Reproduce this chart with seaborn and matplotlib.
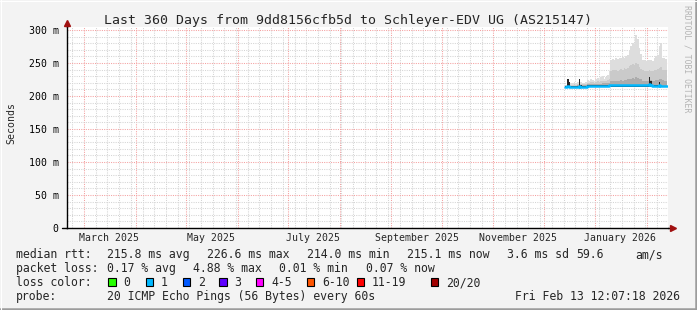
import matplotlib
matplotlib.use('Agg')
import matplotlib.pyplot as plt
import matplotlib.dates as mdates
import matplotlib.ticker as mticker
from matplotlib.patches import Rectangle
from matplotlib.lines import Line2D
import seaborn as sns
import pandas as pd

# ---------------- data ----------------
first_day = '2025-12-14'
median_ms = [214.0, 214.5, 214.2, 213.8, 213.8, 213.8, 213.8, 213.9, 214.5, 214.0,
             214.0, 214.0, 214.2, 215.5, 215.5, 215.6, 215.6, 215.5, 215.6, 215.7,
             215.6, 215.6, 215.7, 215.7, 215.8, 215.8, 215.9, 216.0, 216.0, 216.0,
             216.0, 216.0, 216.0, 216.1, 216.1, 216.0, 216.1, 216.1, 216.2, 216.2,
             216.3, 216.3, 216.4, 216.3, 216.2, 216.1, 216.0, 216.0, 216.0, 216.1,
             218.0, 217.0, 215.8, 215.5, 215.3, 215.2, 216.5, 215.5, 215.1, 215.1,
             215.1, 215.1]
core_ms = [214.5, 226.0, 221.0, 214.5, 214.5, 214.5, 214.5, 214.5, 226.0, 217.0,
           214.5, 214.5, 214.7, 216.0, 216.0, 216.0, 216.0, 216.0, 216.0, 216.2,
           216.0, 216.0, 216.2, 216.2, 216.3, 216.3, 216.4, 216.5, 216.5, 216.5,
           216.5, 216.5, 216.5, 216.6, 216.6, 216.5, 216.6, 216.6, 216.7, 216.7,
           216.8, 216.8, 216.9, 216.8, 216.7, 216.6, 216.5, 216.5, 216.5, 216.6,
           228.0, 222.0, 217.0, 216.0, 216.0, 216.0, 221.0, 216.0, 215.6, 215.6,
           215.6, 215.6]
inner_ms = [215.5, 217.0, 216.0, 215.5, 215.5, 215.5, 215.5, 216.0, 217.0, 216.0,
            216.0, 216.0, 216.0, 217.5, 217.5, 218.0, 218.0, 218.0, 218.5, 218.5,
            218.0, 218.5, 219.0, 219.0, 219.0, 219.5, 220.0, 222.0, 223.0, 222.0,
            223.0, 222.0, 223.0, 224.0, 223.0, 224.0, 224.0, 225.0, 226.0, 226.0,
            227.0, 226.0, 228.0, 227.0, 226.0, 225.0, 223.0, 223.0, 222.0, 223.0,
            225.0, 224.0, 223.0, 223.0, 224.0, 224.0, 225.0, 226.0, 224.0, 223.0,
            223.0, 223.0]
mid_ms = [216.0, 218.0, 218.0, 217.0, 217.0, 217.5, 217.0, 218.0, 219.0, 218.0,
          218.0, 217.5, 218.0, 220.0, 220.0, 221.0, 221.0, 220.0, 221.0, 222.0,
          221.0, 222.0, 223.0, 222.0, 223.0, 224.0, 226.0, 238.0, 240.0, 239.0,
          240.0, 238.0, 240.0, 241.0, 240.0, 242.0, 241.0, 243.0, 246.0, 247.0,
          248.0, 247.0, 250.0, 248.0, 244.0, 241.0, 239.0, 238.0, 238.0, 238.0,
          239.0, 238.0, 238.0, 239.0, 240.0, 241.0, 243.0, 244.0, 240.0, 240.0,
          239.0, 239.0]
outer_ms = [217.0, 219.0, 220.0, 219.0, 220.0, 221.0, 220.0, 221.0, 222.0, 221.0,
            220.0, 219.0, 221.0, 224.0, 223.0, 225.0, 224.0, 222.0, 226.0, 227.0,
            224.0, 228.0, 230.0, 226.0, 229.0, 232.0, 238.0, 255.0, 256.0, 255.0,
            257.0, 256.0, 257.0, 258.0, 259.0, 258.0, 260.0, 262.0, 270.0, 276.0,
            280.0, 278.0, 292.0, 287.0, 272.0, 264.0, 255.0, 254.0, 253.0, 254.0,
            255.0, 254.0, 253.0, 258.0, 260.0, 262.0, 276.0, 280.0, 258.0, 257.0,
            256.0, 256.0]
low_ms = [212.5, 212.5, 212.5, 212.8, 212.8, 212.8, 212.8, 212.8, 212.8, 212.8,
          212.8, 212.8, 213.0, 214.0, 214.0, 214.0, 214.0, 214.0, 214.0, 214.0,
          214.0, 214.0, 214.0, 214.0, 214.0, 214.0, 214.0, 214.0, 214.0, 214.0,
          214.0, 214.0, 214.0, 214.0, 214.0, 214.0, 214.0, 214.0, 214.0, 214.0,
          214.0, 214.0, 214.0, 214.0, 214.0, 214.0, 214.0, 214.0, 214.0, 214.0,
          214.0, 214.0, 214.0, 213.5, 213.5, 213.5, 213.5, 213.5, 213.5, 213.5,
          213.5, 213.5]

y_ticks_ms = [0, 50, 100, 150, 200, 250, 300]
month_labels = ['March 2025', 'May 2025', 'July 2025', 'September 2025',
                'November 2025', 'January 2026']
month_label_dates = ['2025-03-16', '2025-05-16', '2025-07-16', '2025-09-16',
                     '2025-11-16', '2026-01-16']
range_start = '2025-02-18 12:07'
range_end = '2026-02-13 12:07'

loss_labels = ['0', '1', '2', '3', '4-5', '6-10', '11-19', '20/20']
loss_colors = ['#26ff00', '#00b8ff', '#0059ff', '#5e00ff', '#ff00ff',
               '#ff5500', '#ff0000', '#a10000']

title = 'Last 360 Days from 9dd8156cfb5d to Schleyer-EDV UG (AS215147)'
rtt_stats = ['215.8 ms avg', '226.6 ms max', '214.0 ms min', '215.1 ms now',
             '3.6 ms sd', '59.6', 'am/s']
loss_stats = ['0.17 % avg', '4.88 % max', '0.01 % min', '0.07 % now']
probe_text = '20 ICMP Echo Pings (56 Bytes) every 60s'
stamp_text = 'Fri Feb 13 12:07:18 2026'

df = pd.DataFrame({
    'date': pd.date_range(first_day, periods=len(median_ms), freq='D'),
    'median': median_ms, 'core': core_ms, 'inner': inner_ms,
    'mid': mid_ms, 'outer': outer_ms, 'low': low_ms,
})

# ---------------- style ----------------
sns.set_style('white')
plt.rcParams['font.family'] = ['DejaVu Sans Mono']

W, H = 697, 310
fig = plt.figure(figsize=(W / 100, H / 100), dpi=100, facecolor='#f3f3f3')


def fx(x):
    return x / W


def fy(y):
    return 1 - y / H


ax = fig.add_axes([fx(66.5), fy(228), 601.5 / W, 201 / H])
ax.set_facecolor('white')

# smoke
for col, color in [('outer', '#dddddd'), ('mid', '#cacaca'),
                   ('inner', '#acacac'), ('core', '#282828')]:
    ax.fill_between(df['date'], df['low'], df[col], step='post',
                    color=color, linewidth=0, zorder=2)

sns.lineplot(data=df, x='date', y='median', ax=ax, color='#00b8ff',
             linewidth=1.8, drawstyle='steps-post', estimator=None, zorder=3)

ax.set_xlim(pd.Timestamp(range_start), pd.Timestamp(range_end))
ax.set_ylim(0, 304.5)
ax.set_xlabel('')
ax.set_ylabel('')

# grid
ax.xaxis.set_major_locator(mdates.MonthLocator())
ax.xaxis.set_minor_locator(mdates.WeekdayLocator(byweekday=mdates.SA))
ax.xaxis.set_major_formatter(mticker.NullFormatter())
ax.xaxis.set_minor_formatter(mticker.NullFormatter())
ax.yaxis.set_major_locator(mticker.FixedLocator(y_ticks_ms))
ax.yaxis.set_minor_locator(mticker.MultipleLocator(10))
ax.yaxis.set_major_formatter(mticker.FuncFormatter(
    lambda v, p: '0' if v == 0 else f'{int(v)} m'))

ax.grid(True, which='minor', color='#d4d4d4', linestyle=(0, (1.0, 1.2)),
        linewidth=0.75, zorder=1)
ax.grid(True, which='major', color='#f4a0a0', linestyle=(0, (1.0, 1.2)),
        linewidth=0.75, zorder=1)
ax.set_axisbelow(True)

ax.tick_params(axis='x', which='major', direction='out', length=2.2,
               width=0.8, color='#f08080')
ax.tick_params(axis='x', which='minor', direction='out', length=1.5,
               width=0.8, color='#c8c8c8')
ax.tick_params(axis='y', which='major', direction='out', length=3,
               width=0.8, color='#555555', pad=2.5, labelsize=7.1,
               labelcolor='black')
ax.tick_params(axis='y', which='minor', length=0)

for s in ['top', 'right']:
    ax.spines[s].set_visible(False)
for s in ['left', 'bottom']:
    ax.spines[s].set_color('black')
    ax.spines[s].set_linewidth(1.0)

# axis extensions with arrows
ax.add_line(Line2D([0, 0], [1, 1.015], transform=ax.transAxes, color='black',
                   linewidth=1.0, clip_on=False))
ax.add_line(Line2D([1, 1.007], [0, 0], transform=ax.transAxes, color='black',
                   linewidth=1.0, clip_on=False))
ax.add_line(Line2D([-0.007, 0], [0, 0], transform=ax.transAxes, color='black',
                   linewidth=1.0, clip_on=False))
ax.plot([0], [1.018], marker='^', markersize=4.5, color='#a01010',
        transform=ax.transAxes, clip_on=False, zorder=5)
ax.plot([1.008], [0], marker='>', markersize=4.5, color='#a01010',
        transform=ax.transAxes, clip_on=False, zorder=5)

# month labels
for lab, d in zip(month_labels, month_label_dates):
    ax.text(pd.Timestamp(d), -13 / 201, lab, transform=ax.get_xaxis_transform(),
            ha='center', va='baseline', fontsize=7.1)

# texts
fig.text(fx(347.5), fy(24), title, ha='center', va='baseline', fontsize=9.5)
fig.text(fx(11), fy(122.5), 'Seconds', rotation=90, ha='center', va='center',
         fontsize=7.1)
fig.text(fx(687), fy(59), 'RRDTOOL / TOBI OETIKER', rotation=270,
         ha='center', va='center', fontsize=5.9, color='#b4b4b4')

LF = 8.3
rows = [258.3, 272.1, 286.0, 300.0]
fig.text(fx(16), fy(rows[0]), 'median rtt:', fontsize=LF, va='baseline')
for xpos, t in zip([107.3, 207.3, 306.7, 407.3, 507.3, 576.7, 635], rtt_stats):
    fig.text(fx(xpos), fy(rows[0]), t, fontsize=LF, va='baseline')
fig.text(fx(16), fy(rows[1]), 'packet loss:', fontsize=LF, va='baseline')
for xpos, t in zip([107.3, 192.7, 279.3, 365.7], loss_stats):
    fig.text(fx(xpos), fy(rows[1]), t, fontsize=LF, va='baseline')
fig.text(fx(16), fy(rows[2]), 'loss color:', fontsize=LF, va='baseline')
for xpos, lab, c in zip([108.3, 145.7, 182.7, 219.3, 256, 307, 356.7, 430.7],
                        loss_labels, loss_colors):
    fig.patches.append(Rectangle((fx(xpos), fy(286.3)), 7.3 / W, 8.6 / H,
                                 transform=fig.transFigure, facecolor=c,
                                 edgecolor='black', linewidth=0.8))
    fig.text(fx(xpos + 15), fy(rows[2]), lab, fontsize=LF, va='baseline')
fig.text(fx(16), fy(rows[3]), 'probe:', fontsize=LF, va='baseline')
fig.text(fx(107.3), fy(rows[3]), probe_text, fontsize=LF, va='baseline')
fig.text(fx(680), fy(rows[3]), stamp_text, fontsize=LF, va='baseline',
         ha='right')

# frame of the image
fig.add_artist(Line2D([0, 1], [fy(308.8), fy(308.8)], transform=fig.transFigure,
                      color='#9c9c9c', linewidth=1.8))
fig.add_artist(Line2D([fx(695.8), fx(695.8)], [0, 1], transform=fig.transFigure,
                      color='#9c9c9c', linewidth=1.8))
fig.add_artist(Line2D([0, 1], [fy(0.5), fy(0.5)], transform=fig.transFigure,
                      color='#ffffff', linewidth=0.8))
fig.add_artist(Line2D([fx(0.5), fx(0.5)], [0, 1], transform=fig.transFigure,
                      color='#ffffff', linewidth=0.8))

fig.savefig('out.png', dpi=100, facecolor=fig.get_facecolor())
